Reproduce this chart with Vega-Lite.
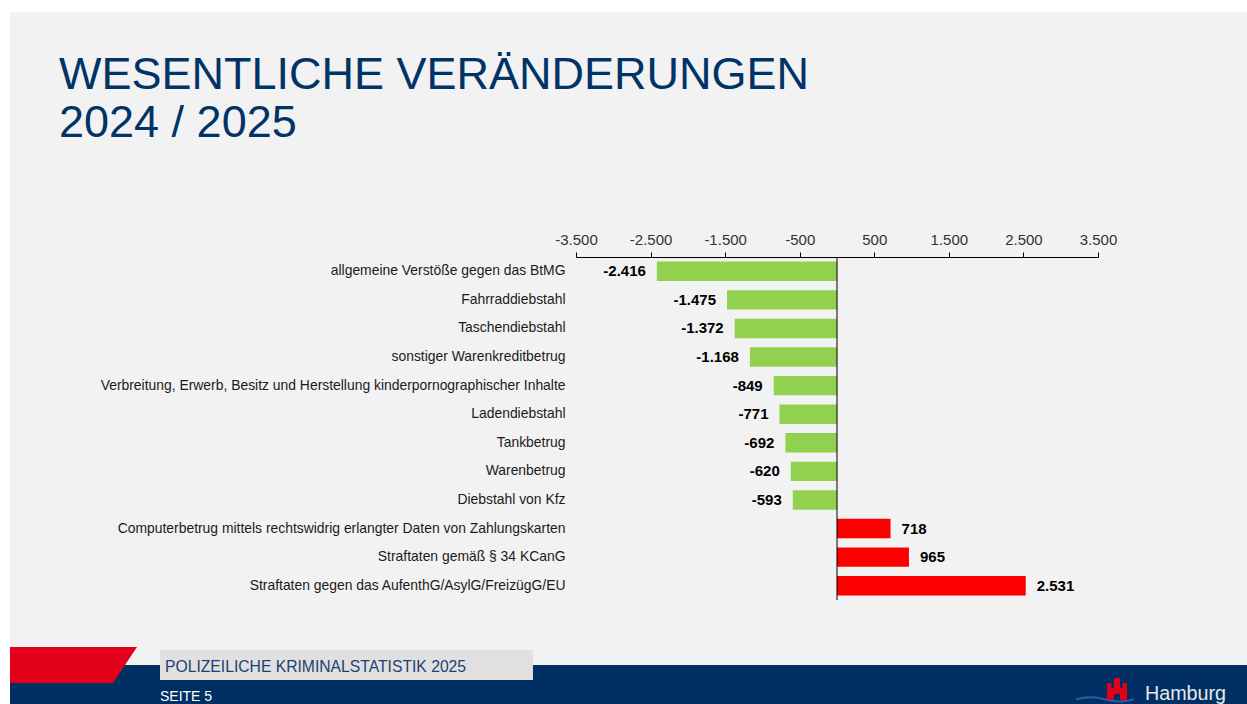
{
  "$schema": "https://vega.github.io/schema/vega-lite/v6.json",
  "width": 522,
  "height": 343,
  "autosize": {"type": "none"},
  "padding": {"left": 576, "top": 257, "right": 149, "bottom": 104},
  "background": "#ffffff",
  "config": {
    "font": "Liberation Sans",
    "view": {"stroke": null},
    "locale": {"number": {"decimal": ",", "thousands": ".", "grouping": [3], "currency": ["", " €"], "minus": "-"}}
  },
  "data": {
    "values": [
      {"category": "allgemeine Verstöße gegen das BtMG", "value": -2416},
      {"category": "Fahrraddiebstahl", "value": -1475},
      {"category": "Taschendiebstahl", "value": -1372},
      {"category": "sonstiger Warenkreditbetrug", "value": -1168},
      {"category": "Verbreitung, Erwerb, Besitz und Herstellung kinderpornographischer Inhalte", "value": -849},
      {"category": "Ladendiebstahl", "value": -771},
      {"category": "Tankbetrug", "value": -692},
      {"category": "Warenbetrug", "value": -620},
      {"category": "Diebstahl von Kfz", "value": -593},
      {"category": "Computerbetrug mittels rechtswidrig erlangter Daten von Zahlungskarten", "value": 718},
      {"category": "Straftaten gemäß § 34 KCanG", "value": 965},
      {"category": "Straftaten gegen das AufenthG/AsylG/FreizügG/EU", "value": 2531}
    ]
  },
  "layer": [
    {
      "data": {"values": [{}]},
      "mark": {"type": "rect", "color": "#f2f2f2"},
      "encoding": {"x": {"value": -566}, "x2": {"value": 671}, "y": {"value": -245}, "y2": {"value": 447}}
    },
    {
      "data": {"values": [{"t": "WESENTLICHE VERÄNDERUNGEN"}]},
      "mark": {"type": "text", "align": "left", "baseline": "alphabetic", "fontSize": 45, "color": "#003366"},
      "encoding": {"x": {"value": -517}, "y": {"value": -168}, "text": {"field": "t"}}
    },
    {
      "data": {"values": [{"t": "2024 / 2025"}]},
      "mark": {"type": "text", "align": "left", "baseline": "alphabetic", "fontSize": 45, "color": "#003366"},
      "encoding": {"x": {"value": -517}, "y": {"value": -120}, "text": {"field": "t"}}
    },
    {
      "mark": {"type": "bar"},
      "encoding": {
        "y": {
          "field": "category", "type": "nominal", "sort": null,
          "scale": {"paddingInner": 0.32, "paddingOuter": 0.16},
          "axis": {"title": null, "domain": false, "ticks": false, "labelPadding": 11, "labelFontSize": 13.9, "labelColor": "#1a1a1a", "labelLimit": 700, "zindex": 1}
        },
        "x": {
          "field": "value", "type": "quantitative",
          "scale": {"domain": [-3500, 3500], "nice": false, "zero": false},
          "axis": {"orient": "top", "title": null, "grid": false, "values": [-3500, -2500, -1500, -500, 500, 1500, 2500, 3500], "format": ",d", "tickSize": 5, "tickColor": "#000000", "domainColor": "#000000", "labelFontSize": 15, "labelColor": "#333333", "labelPadding": 5, "labelFlush": false, "labelOverlap": false, "zindex": 1}
        },
        "color": {"condition": {"test": "datum.value < 0", "value": "#92d050"}, "value": "#ff0000"}
      }
    },
    {
      "data": {"values": [{"v": 0}]},
      "mark": {"type": "rule", "color": "#000000", "strokeWidth": 1},
      "encoding": {"x": {"datum": 0}}
    },
    {
      "transform": [{"filter": "datum.value < 0"}],
      "mark": {"type": "text", "align": "right", "baseline": "middle", "dx": -11, "fontSize": 15, "fontWeight": "bold", "color": "#000000"},
      "encoding": {
        "y": {"field": "category", "type": "nominal", "sort": null},
        "x": {"field": "value", "type": "quantitative"},
        "text": {"field": "value", "type": "quantitative", "format": ",d"}
      }
    },
    {
      "transform": [{"filter": "datum.value >= 0"}],
      "mark": {"type": "text", "align": "left", "baseline": "middle", "dx": 11, "fontSize": 15, "fontWeight": "bold", "color": "#000000"},
      "encoding": {
        "y": {"field": "category", "type": "nominal", "sort": null},
        "x": {"field": "value", "type": "quantitative"},
        "text": {"field": "value", "type": "quantitative", "format": ",d"}
      }
    },
    {
      "data": {"values": [{}]},
      "mark": {"type": "rect", "color": "#003063"},
      "encoding": {"x": {"value": -566}, "x2": {"value": 671}, "y": {"value": 408}, "y2": {"value": 447}}
    },
    {
      "data": {"values": [{}]},
      "mark": {"type": "point", "shape": "M -1 -0.283 L 1 -0.283 L 0.622 0.283 L -1 0.283 Z", "filled": true, "size": 16129, "color": "#e2001a", "opacity": 1, "strokeWidth": 0},
      "encoding": {"x": {"value": -502.5}, "y": {"value": 408}}
    },
    {
      "data": {"values": [{}]},
      "mark": {"type": "rect", "color": "#e0e0e0"},
      "encoding": {"x": {"value": -416}, "x2": {"value": -43}, "y": {"value": 393}, "y2": {"value": 423}}
    },
    {
      "data": {"values": [{"t": "POLIZEILICHE KRIMINALSTATISTIK 2025"}]},
      "mark": {"type": "text", "align": "left", "baseline": "alphabetic", "fontSize": 15.7, "color": "#1f3f6f"},
      "encoding": {"x": {"value": -411}, "y": {"value": 415}, "text": {"field": "t"}}
    },
    {
      "data": {"values": [{"t": "SEITE 5"}]},
      "mark": {"type": "text", "align": "left", "baseline": "alphabetic", "fontSize": 14, "color": "#ffffff"},
      "encoding": {"x": {"value": -416}, "y": {"value": 444}, "text": {"field": "t"}}
    },
    {
      "data": {"values": [{"t": "Hamburg"}]},
      "mark": {"type": "text", "align": "left", "baseline": "alphabetic", "fontSize": 19.7, "color": "#e8e8e8"},
      "encoding": {"x": {"value": 569}, "y": {"value": 443}, "text": {"field": "t"}}
    },
    {
      "data": {"values": [{}]},
      "mark": {"type": "point", "shape": "M -1 -0.4 Q -0.5 -0.55 0 -0.4 Q 0.5 -0.25 1 -0.4", "filled": false, "size": 3364, "color": "#2a5ea8", "opacity": 1, "strokeWidth": 2},
      "encoding": {"x": {"value": 529}, "y": {"value": 454}}
    },
    {
      "data": {"values": [{}]},
      "mark": {"type": "point", "shape": "M -1 1.1 L -1 -0.6 L -0.55 -0.6 L -0.55 -0.1 L -0.3 -0.1 L -0.3 -1.1 L 0.3 -1.1 L 0.3 -0.1 L 0.55 -0.1 L 0.55 -0.6 L 1 -0.6 L 1 1.1 L 0.3 1.1 L 0.3 0.5 L -0.3 0.5 L -0.3 1.1 Z", "filled": true, "size": 400, "color": "#e2001a", "opacity": 1, "strokeWidth": 0},
      "encoding": {"x": {"value": 541}, "y": {"value": 432}}
    }
  ]
}
